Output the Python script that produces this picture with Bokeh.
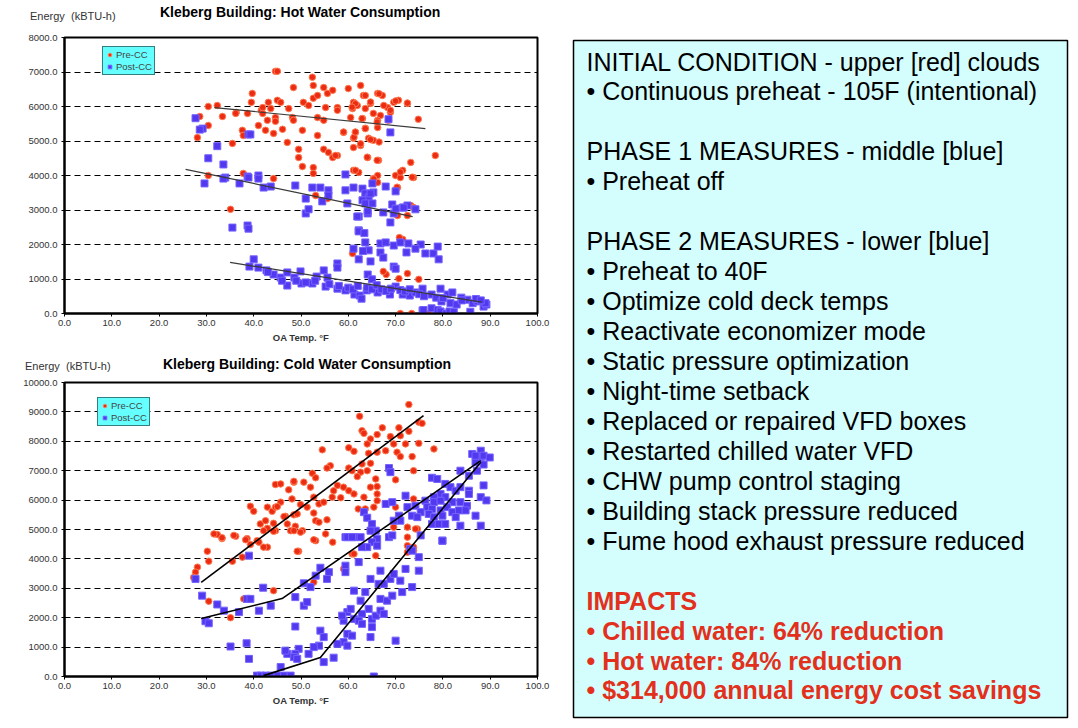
from bokeh.plotting import figure
from bokeh.models import Range1d, FixedTicker, PrintfTickFormatter, Legend, LegendItem, Div
from bokeh.layouts import row, column
from bokeh.core.properties import value
from bokeh.embed import file_html
from bokeh.resources import INLINE

# ---------------- data ----------------
x_ticks = [0, 10, 20, 30, 40, 50, 60, 70, 80, 90, 100]
hot_y_ticks = [0, 1000, 2000, 3000, 4000, 5000, 6000, 7000, 8000]
cold_y_ticks = [0, 1000, 2000, 3000, 4000, 5000, 6000, 7000, 8000, 9000, 10000]

hot_pre = [
    (30.4,6000),(28.6,5710),(30.4,5450),(28.1,5100),(33.4,5710),(36.3,5830),(38.7,5800),(35.5,4930),
    (37.6,5310),(37.8,5160),(39.7,6380),(39.5,6120),(41.6,5890),(41.0,5450),(42.9,5600),(44.6,7020),
    (44.2,5220),(30.4,4000),(37.8,4060),(45.0,7020),(52.4,6850),(48.4,6550),(52.6,6610),(54.8,6550),
    (62.6,6610),(60.0,6520),(43.1,6120),(45.0,6180),(45.7,6120),(50.5,6120),(52.6,6240),(53.5,6320),
    (55.6,6380),(56.7,6470),(63.2,6320),(66.2,6380),(67.2,6320),(69.6,6120),(70.6,6180),(72.5,6090),
    (61.1,6120),(61.9,6030),(64.7,6090),(32.3,6030),(41.9,5970),(43.6,5940),(47.4,5940),(51.6,6030),
    (55.2,5970),(57.7,5970),(60.9,5940),(63.6,5940),(68.3,5970),(68.9,5830),(65.3,5800),(36.2,5800),
    (41.9,5800),(44.6,5680),(48.2,5680),(53.5,5680),(54.8,5600),(60.5,5680),(63.0,5650),(66.8,5740),
    (68.5,5600),(74.8,5630),(44.6,5570),(48.4,5600),(66.2,5600),(42.5,5310),(46.1,5340),(50.3,5310),
    (53.5,5160),(59.0,5250),(61.5,5250),(63.6,5370),(66.2,5390),(61.1,5080),(64.3,5080),(65.3,5020),
    (47.1,4960),(61.1,4810),(62.6,4870),(49.5,4760),(54.8,4760),(55.8,4670),(56.7,4520),(57.7,4580),
    (49.5,4520),(64.1,4520),(66.4,4440),(73.2,4380),(78.4,4580),(50.3,4260),(52.6,4230),(52.6,4060),
    (61.1,4150),(62.2,4090),(66.2,4000),(71.5,4150),(73.8,3940),(70.0,4000),(71.0,3940),(44.2,3910),
    (65.3,3910),(66.2,3800),(70.4,3650),(53.1,3420),(55.6,3330),(73.2,3130),(73.8,3070),(72.5,2840),
    (70.4,2840),(35.1,3020),(73.5,3950),(71.0,4100),(70.3,3660),(65.4,3900),(61.5,4150),(66.1,4440),
    (64.0,4530),(57.3,4580),(59.0,5260),(61.2,5110),(62.6,4920),(64.7,5040),(66.5,4970),(63.6,6320),
    (66.5,6370),(64.7,6130),(68.9,5890),(67.5,6030),(70.0,6160),(72.5,6100),(61.5,6080),(60.8,5980),
    (57.7,5890),(62.9,5650),(66.1,5550),(63.6,5360),(61.5,5260),
    (60.9,1740),(71.5,2150),(68.0,1130),(70.7,1010),(74.9,990),(67.4,1220),(72.5,1160),(70.8,2200),
    (71.0,0),(73.4,0),(75.7,0),(77.0,0),
]
hot_post = [
    (27.7,5660),(29.2,5360),(28.6,5330),(38.9,5190),(32.3,4850),(30.4,4500),(33.6,4320),(34.0,3940),
    (38.7,3970),(41.0,4000),(39.3,5190),(29.6,3770),(33.6,3910),(37.0,3770),(38.9,3940),(41.0,3910),
    (42.1,3650),(43.6,3680),(48.8,3710),(51.0,3330),(52.4,3650),(54.1,3650),(55.8,3570),(55.8,3420),
    (54.5,3250),(59.4,4030),(59.4,3570),(61.1,3650),(63.0,3620),(63.6,3480),(65.1,3770),(65.3,3510),
    (64.3,3360),(63.0,3280),(63.6,3190),(59.8,3190),(65.1,3190),(67.9,3680),(70.0,3540),(69.3,3160),
    (71.5,3070),(72.5,3130),(74.2,3020),(69.6,2900),(67.4,2930),(64.1,2900),(62.2,2810),(68.9,2640),
    (51.0,2900),(51.6,3020),(68.5,5630),(68.9,5250),(35.5,2490),(38.7,2550),(38.9,2460),(62.2,2410),
    (64.7,3480),(64.1,2960),(61.9,2810),(70.0,3040),(71.7,3070),
    (62.2,2380),(63.6,2060),(61.1,1880),(64.3,1830),(66.8,2030),(67.9,2060),(66.8,1770),(67.4,1620),
    (69.6,1970),(71.0,2060),(72.7,2030),(75.3,2000),(72.3,1770),(74.2,1880),(76.3,1740),(78.0,1740),
    (78.9,1940),(79.1,1570),(62.2,1570),(64.7,1510),(57.7,1450),(69.6,1360),(64.1,1130),(63.4,2330),
    (63.1,1810),
    (40.0,1570),(39.1,1360),(41.0,1330),(42.7,1250),(44.2,1130),(45.7,1040),(47.1,1190),(48.6,1040),
    (49.9,1220),(50.1,870),(47.1,810),(52.4,870),(53.3,1070),(54.8,1250),(55.6,1040),(55.2,780),
    (57.7,720),(57.7,1330),(59.4,670),(61.3,550),(62.4,520),(62.8,430),(63.9,670),(65.0,990),
    (66.2,610),(67.7,670),(68.8,550),(70.0,780),(70.0,1300),(71.5,550),(73.0,520),(74.2,610),
    (75.7,720),(75.7,90),(75.9,100),(77.6,150),(78.9,100),(79.5,60),(80.7,0),(81.4,60),(82.3,40),
    (85.8,50),(77.6,550),(78.6,460),(79.7,350),(81.0,550),(81.6,300),(82.9,260),(83.9,460),(85.2,400),
    (86.3,300),(87.3,350),(88.6,200),(89.2,260),(89.0,300),(79.5,720),(82.0,610),
    (43.0,1200),(46.0,950),(49.0,950),(51.0,900),(53.0,950),(56.0,850),(58.0,800),(60.0,750),
    (61.0,700),(62.0,800),(64.0,750),(65.0,700),(66.0,820),(67.0,700),(68.0,650),(69.0,720),
    (71.0,680),(72.0,640),(73.0,700),(75.0,560),(76.0,500),(80.0,450),(84.0,380),(87.0,420),(88.0,380),
]
cold_pre = [
    (32.3,4830),(33.3,4690),(36.2,4770),(38.6,4690),(39.3,5790),(40.0,5620),(42.9,5760),(43.9,5620),
    (44.6,5760),(45.7,5930),(41.4,5190),(42.5,5300),(42.9,5040),(44.6,6530),(45.7,6550),(48.5,6610),
    (47.4,6350),(48.1,6040),(46.7,5450),(48.5,5500),(48.8,5110),(44.6,4960),(47.8,4960),
    (72.8,9250),(62.4,8850),(62.9,8360),(63.3,8270),(64.7,8080),(66.1,8230),(67.2,8460),(68.9,8160),
    (70.7,8460),(71.0,8190),(72.8,8340),(74.9,8650),(75.6,8610),(54.5,7710),(60.1,7780),(61.2,7660),
    (64.0,7910),(64.3,7590),(67.9,7680),(66.1,7630),(69.6,7910),(70.3,7630),(72.1,7910),(71.0,7480),
    (73.5,7480),(74.9,7930),(78.1,7740),(56.2,7170),(55.5,7090),(52.4,6910),(53.1,6760),(60.1,7090),
    (60.8,7000),(62.6,6950),(64.0,7000),(62.9,7230),(64.7,7250),(61.9,6800),(65.8,6720),(70.0,6690),
    (73.8,7000),(48.5,6640),(50.6,6610),(52.0,6440),(57.7,6500),(59.0,6440),(60.1,6320),(64.7,6440),
    (66.1,6460),(56.9,6320),(56.6,6100),(58.4,6080),(61.2,6210),(63.3,6100),(66.1,6210),(66.1,5980),
    (52.7,6100),(53.8,5870),(54.8,5930),(49.9,5850),(51.3,5760),(45.0,5780),(62.1,5700),(63.6,5700),
    (65.4,5760),(70.0,5760),(73.8,6040),(46.4,5440),(49.2,5530),(52.7,5560),(53.1,5300),(53.8,5250),
    (55.5,5330),(44.2,5210),(47.1,5190),(48.5,4960),(50.3,4960),(55.2,4850),(42.1,4960),(69.6,5080),
    (72.5,5080),(74.6,5020),(72.5,4740),(42.9,4400),(53.1,4620),(49.5,4260),(72.5,4450),(73.8,4400),
    (60.8,4170),(65.8,4110),(72.5,4230),(74.2,5020),
    (31.6,4850),(33.3,4720),(35.8,4800),(38.3,4650),(40.7,4620),(44.2,4940),(49.9,4910),(30.2,4260),
    (30.5,3920),(28.1,3720),(27.7,3550),(35.5,3920),(37.6,4060),(39.3,4490),(41.1,4570),(42.1,4400),
    (49.2,4260),(52.7,4650),(56.7,4570),(61.2,4170),(73.8,4280),(59.0,3660),(52.7,3210),(44.2,2920),
    (37.9,2640),(30.5,2560),(35.1,2000),(27.3,3370),
]
cold_post = [
    (27.7,3320),(29.1,2750),(29.8,1880),(30.5,1810),(32.3,2450),(33.7,2240),(35.1,1020),(36.9,2190),
    (38.6,2640),(39.3,2640),(39.0,600),(38.5,1130),(41.1,2240),(42.0,3020),(43.6,2410),(39.0,4110),
    (48.8,2700),(48.8,1700),(50.6,2410),(51.3,2530),(50.6,3170),(52.0,3040),(53.1,3430),(54.1,3700),
    (55.9,3550),(55.5,3320),(59.4,3770),(59.4,3550),(59.4,4740),(61.2,4740),(62.2,3890),(61.2,2920),
    (63.6,2870),(64.7,3320),(66.4,3150),(62.6,2580),(64.3,2300),(62.9,2130),(61.2,1960),(59.8,2190),
    (60.5,2300),(59.0,1900),(58.7,2070),(62.2,1900),(62.9,1790),(65.0,1960),(65.8,2070),(66.8,2240),
    (67.5,2130),(66.8,2640),(68.2,2580),(69.3,2750),(67.5,3150),(68.9,3320),(69.6,3490),(71.0,3260),
    (72.1,3660),(74.9,3600),(73.5,3040),(71.4,2870),(66.8,3600),(70.0,1220),(64.7,1340),(65.0,1680),
    (59.8,1450),(60.8,1390),(59.0,1170),(59.8,1050),(57.7,1110),(54.1,1560),(54.8,1340),(53.8,1050),
    (52.7,1000),(51.6,770),(49.5,940),(48.8,770),(48.5,660),(47.1,770),(46.7,880),(49.2,600),
    (54.8,490),(56.9,640),(45.7,320),(40.7,30),(41.5,30),(42.5,30),(43.6,30),(45.0,30),(46.4,30),
    (47.8,30),(65.4,0),(75.3,4800),(79.9,4620),(73.1,4340),
    (68.6,7090),(68.9,6950),(86.2,7570),(88.0,7460),(88.6,7210),(86.9,7290),(87.2,7000),(83.7,7000),
    (85.5,6830),(77.7,6760),(78.8,6720),(80.5,6550),(81.6,6440),(82.7,6320),(83.7,6440),(85.5,6320),
    (88.6,6500),(79.5,6210),(80.5,6100),(78.1,6100),(76.3,5980),(78.1,5930),(79.5,5980),(82.0,5930),
    (83.7,5930),(85.1,5810),(88.0,6100),(85.5,6210),(72.1,6150),(67.9,5870),(69.3,5930),(72.5,5760),
    (74.2,5810),(76.7,5760),(77.7,5700),(79.5,5650),(80.9,5760),(82.0,5590),(83.4,5650),(84.8,5650),
    (75.3,5590),(73.5,5470),(74.6,5420),(77.0,5530),(78.1,5420),(79.9,5470),(82.7,5420),(77.7,5190),
    (79.1,5190),(80.5,5190),(83.7,5130),(79.9,4620),(63.3,5590),(64.0,5400),(65.0,5190),(65.8,4960),
    (64.7,4960),(66.1,4680),(65.0,4570),(66.1,4450),(64.0,4400),(62.9,4400),(62.6,4740),(59.8,4740),
    (60.8,4740),(68.6,4740),(69.3,4800),(70.7,5470),(71.0,5300),(69.6,5300),(74.9,4060),(73.5,4280),
    (88.0,7680),(88.6,7510),(86.9,7510),(89.9,7450),(89.2,5990),(88.0,5130),(86.9,5470),
]

hot_fit_pre_x, hot_fit_pre_y = [31.7, 76.3], [5970, 5360]
hot_fit_p1_x, hot_fit_p1_y = [25.6, 73.6], [4180, 2810]
hot_fit_p2_x, hot_fit_p2_y = [35.0, 88.2], [1480, 330]
cold_fit_pre_x, cold_fit_pre_y = [28.9, 75.9], [3200, 8870]
cold_fit_p1_x, cold_fit_p1_y = [28.9, 46.0, 88.0], [1970, 2650, 7340]
cold_fit_p2_x, cold_fit_p2_y = [42.1, 54.1, 88.0], [30, 650, 7290]

hot_title = "Kleberg Building: Hot Water Consumption"
cold_title = "Kleberg Building: Cold Water Consumption"
y_label = "Energy&nbsp;&nbsp;(kBTU-h)"
x_label = "OA Temp. \u00b0F"
series_names = ["Pre-CC", "Post-CC"]

text_lines = [
    "INITIAL CONDITION - upper [red] clouds",
    "\u2022 Continuous preheat - 105F (intentional)",
    "",
    "PHASE 1 MEASURES - middle [blue]",
    "\u2022 Preheat off",
    "",
    "PHASE 2 MEASURES - lower [blue]",
    "\u2022 Preheat to 40F",
    "\u2022 Optimize cold deck temps",
    "\u2022 Reactivate economizer mode",
    "\u2022 Static pressure optimization",
    "\u2022 Night-time setback",
    "\u2022 Replaced or repaired VFD boxes",
    "\u2022 Restarted chilled water VFD",
    "\u2022 CHW pump control staging",
    "\u2022 Building stack pressure reduced",
    "\u2022 Fume hood exhaust pressure reduced",
    "",
]
impact_lines = [
    "IMPACTS",
    "\u2022 Chilled water: 64% reduction",
    "\u2022 Hot water: 84% reduction",
    "\u2022 $314,000 annual energy cost savings",
]

FONT = "Liberation Sans"
RED_FILL, RED_LINE = "#ec2c12", "#ff7b52"
BLUE_FILL, BLUE_LINE = "#5238ee", "#7463ff"
LEFT_W = 564


def header(title, height, title_left, title_top, label_left, label_top):
    html = (
        f'<div style="position:relative;width:{LEFT_W}px;height:{height}px;'
        f"font-family:'{FONT}',Arial,sans-serif;\">"
        f'<span style="position:absolute;left:{label_left}px;top:{label_top}px;'
        f'font-size:11px;line-height:11px;color:#333333;white-space:nowrap;">{y_label}</span>'
        f'<span style="position:absolute;left:{title_left}px;top:{title_top}px;'
        f'font-size:14px;line-height:14px;font-weight:bold;color:#000000;white-space:nowrap;">{title}</span>'
        '</div>'
    )
    return Div(text=html, width=LEFT_W, height=height, margin=0)


def make_chart(pre, post, fits, y_ticks, ymax, height, mb_top, mb_bottom,
               legend_loc, line_color, line_width):
    p = figure(width=LEFT_W, height=height, x_range=Range1d(0, 100), y_range=Range1d(0, ymax),
               output_backend="svg", toolbar_location=None,
               min_border_left=64, min_border_right=27,
               min_border_top=mb_top, min_border_bottom=mb_bottom)
    p.background_fill_color = "white"
    p.border_fill_color = "white"
    p.outline_line_color = "black"
    p.outline_line_width = 2

    p.xaxis.ticker = FixedTicker(ticks=x_ticks)
    p.yaxis.ticker = FixedTicker(ticks=y_ticks)
    p.xaxis.formatter = PrintfTickFormatter(format="%.1f")
    p.yaxis.formatter = PrintfTickFormatter(format="%.1f")
    for ax in (p.xaxis, p.yaxis):
        ax.axis_line_color = "black"
        ax.axis_line_width = 2
        ax.major_tick_line_color = "black"
        ax.major_tick_in = 0
        ax.major_tick_out = 3
        ax.minor_tick_line_color = None
        ax.major_label_text_font = FONT
        ax.major_label_text_font_size = "9.5px"
        ax.major_label_text_color = "#333333"
    p.xaxis.major_label_standoff = 3
    p.yaxis.major_label_standoff = 4
    p.xaxis.axis_label = x_label
    p.xaxis.axis_label_text_font = FONT
    p.xaxis.axis_label_text_font_size = "9.5px"
    p.xaxis.axis_label_text_font_style = "bold"
    p.xaxis.axis_label_text_color = "#333333"
    p.xaxis.axis_label_standoff = 3

    p.xgrid.visible = False
    p.ygrid.ticker = FixedTicker(ticks=y_ticks)
    p.ygrid.grid_line_color = "black"
    p.ygrid.grid_line_width = 1
    p.ygrid.grid_line_dash = "6 4"

    r_pre = p.scatter([a for a, b in pre], [b for a, b in pre], marker="circle", size=6.5,
                      fill_color=RED_FILL, line_color=RED_LINE, line_width=1)
    r_post = p.scatter([a for a, b in post], [b for a, b in post], marker="square", size=7,
                       fill_color=BLUE_FILL, line_color=BLUE_LINE, line_width=1)
    for fx, fy in fits:
        p.line(fx, fy, line_color=line_color, line_width=line_width)

    legend = Legend(items=[LegendItem(label=series_names[0], renderers=[r_pre]),
                           LegendItem(label=series_names[1], renderers=[r_post])],
                    location=legend_loc)
    legend.background_fill_color = "#66ffff"
    legend.background_fill_alpha = 1
    legend.border_line_color = "black"
    legend.border_line_width = 1
    legend.label_text_font = FONT
    legend.label_text_font_size = "9.5px"
    legend.label_height = 9
    legend.glyph_height = 9
    legend.glyph_width = 9
    legend.label_standoff = 2
    legend.padding = 2
    legend.spacing = 1
    legend.margin = 0
    p.add_layout(legend)
    return p


top_head = header(hot_title, 30, 160, 5, 30, 11)
top = make_chart(hot_pre, hot_post,
                 [(hot_fit_pre_x, hot_fit_pre_y), (hot_fit_p1_x, hot_fit_p1_y), (hot_fit_p2_x, hot_fit_p2_y)],
                 hot_y_ticks, 8000, 326, 7, 43, (38, 238), "#3a3a3a", 1.2)
bottom_head = header(cold_title, 20, 163, 1, 25, 5)
bottom = make_chart(cold_pre, cold_post,
                    [(cold_fit_pre_x, cold_fit_pre_y), (cold_fit_p1_x, cold_fit_p1_y), (cold_fit_p2_x, cold_fit_p2_y)],
                    cold_y_ticks, 10000, 344, 6, 44, (33, 250), "black", 1.6)

# ---------------- text panel ----------------
tp = figure(width=506, height=720, x_range=Range1d(0, 506), y_range=Range1d(720, 0),
            output_backend="svg", toolbar_location=None, x_axis_type=None, y_axis_type=None,
            min_border=0)
tp.outline_line_color = None
tp.background_fill_color = "white"
tp.border_fill_color = "white"
tp.grid.visible = False
tp.quad(left=[9], right=[503], top=[40], bottom=[717], fill_color="#d4fdfd",
        line_color="black", line_width=1.5)

LINE_H = 29.95
BASE = 61
y_main = [BASE + LINE_H * i for i in range(len(text_lines))]
tp.text(x=[22] * len(text_lines), y=y_main, text=text_lines, text_font=value(FONT),
        text_font_size="25px", text_color="black", text_baseline="alphabetic", text_align="left")
y_imp = [BASE + LINE_H * (len(text_lines) + i) for i in range(len(impact_lines))]
tp.text(x=[22] * len(impact_lines), y=y_imp, text=impact_lines, text_font=value(FONT),
        text_font_size="25px", text_font_style="bold", text_color="#e2301c",
        text_baseline="alphabetic", text_align="left")

layout = row(column(top_head, top, bottom_head, bottom), tp)
open("out.html", "w").write(file_html(layout, INLINE))
